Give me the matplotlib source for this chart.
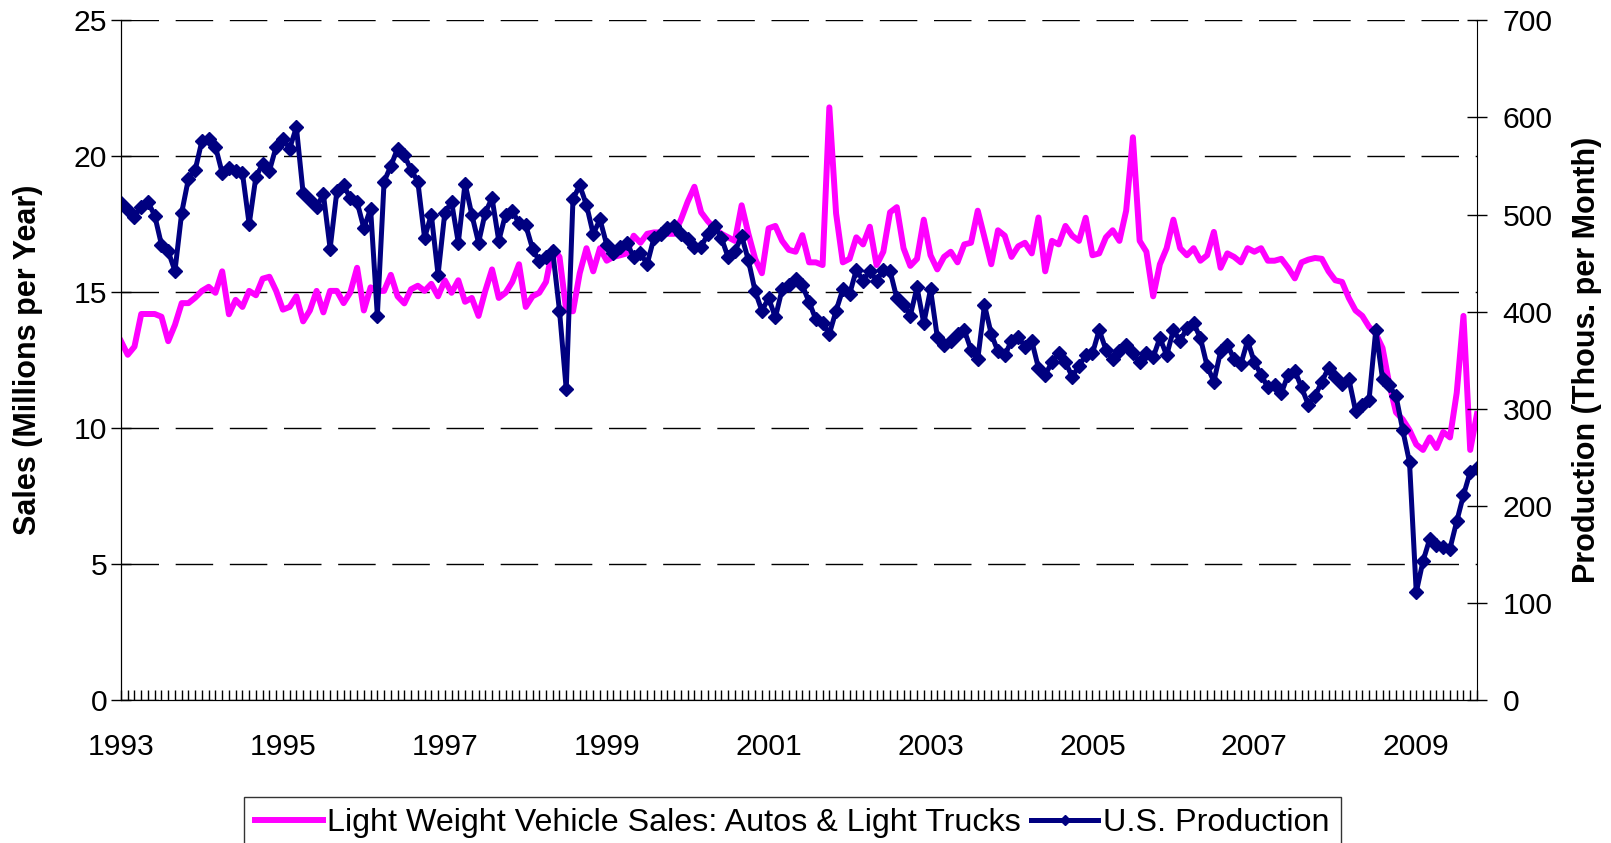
# Light vehicle sales vs U.S. production, monthly 1993 - Oct 2009
import numpy as np
import matplotlib.pyplot as plt

plt.rcParams['font.family'] = ['Liberation Sans', 'DejaVu Sans']

# Sales, millions per year (left axis)
sales = [
    13.2, 12.7, 13.0, 14.2, 14.2, 14.2, 14.1, 13.2, 13.8, 14.6, 14.6, 14.8,      # 1993
    15.05, 15.2, 14.98, 15.77, 14.19, 14.72, 14.46, 15.05, 14.89, 15.5, 15.57, 15.05,  # 1994
    14.36, 14.46, 14.85, 13.93, 14.33, 15.05, 14.26, 15.05, 15.05, 14.6, 15.0, 15.9,   # 1995
    14.33, 15.18, 15.05, 15.05, 15.64, 14.85, 14.59, 15.11, 15.24, 15.05, 15.31, 14.85,  # 1996
    15.44, 14.98, 15.44, 14.65, 14.79, 14.13, 15.05, 15.84, 14.79, 14.98, 15.38, 16.03,  # 1997
    14.46, 14.85, 14.98, 15.38, 16.62, 16.3, 14.33, 14.3, 15.7, 16.62, 15.77, 16.62,     # 1998
    16.16, 16.3, 16.36, 16.43, 17.08, 16.82, 17.15, 17.2, 17.2, 17.15, 17.15, 17.67,     # 1999
    18.33, 18.88, 17.94, 17.61, 17.35, 17.15, 17.02, 16.89, 18.2, 17.15, 16.23, 15.7,    # 2000
    17.35, 17.44, 16.89, 16.56, 16.49, 17.1, 16.1, 16.1, 16.0, 21.8, 17.9, 16.1,         # 2001
    16.23, 17.02, 16.76, 17.41, 16.0, 16.49, 17.94, 18.13, 16.62, 15.97, 16.23, 17.67,   # 2002
    16.36, 15.84, 16.3, 16.49, 16.1, 16.76, 16.82, 18.0, 17.02, 16.03, 17.28, 17.08,     # 2003
    16.3, 16.69, 16.82, 16.43, 17.75, 15.77, 16.89, 16.76, 17.44, 17.08, 16.89, 17.74,   # 2004
    16.36, 16.43, 17.02, 17.28, 16.89, 18.0, 20.7, 16.89, 16.49, 14.85, 16.03, 16.62,    # 2005
    17.67, 16.62, 16.36, 16.62, 16.16, 16.36, 17.22, 15.9, 16.43, 16.3, 16.1, 16.62,     # 2006
    16.49, 16.62, 16.16, 16.16, 16.23, 15.9, 15.51, 16.1, 16.2, 16.26, 16.23, 15.77,     # 2007
    15.44, 15.38, 14.79, 14.33, 14.13, 13.73, 13.47, 12.95, 11.63, 10.58, 10.32, 9.93,   # 2008
    9.4, 9.2, 9.66, 9.27, 9.86, 9.66, 11.3, 14.13, 9.2, 10.52,                          # 2009
]

# Production, thousands per month (right axis)
production = [
    512, 505, 498, 508, 513, 499, 469, 462, 442, 502, 537, 546,
    576, 578, 570, 543, 548, 545, 543, 490, 539, 552, 545, 570,
    578, 568, 590, 522, 515, 508, 521, 465, 524, 530, 517, 513,
    486, 506, 396, 534, 550, 568, 561, 546, 534, 476, 500, 438,
    502, 513, 471, 532, 500, 471, 502, 517, 473, 500, 504, 491,
    489, 465, 452, 456, 462, 401, 320, 516, 530, 510, 480, 495,
    469, 460, 467, 471, 456, 460, 449, 476, 480, 486, 488, 480,
    475, 467, 467, 480, 488, 476, 456, 462, 478, 453, 421, 401,
    414, 394, 423, 427, 434, 427, 410, 392, 388, 377, 401, 423,
    418, 443, 432, 442, 432, 443, 442, 414, 407, 396, 425, 388,
    423, 374, 366, 370, 377, 381, 361, 351, 407, 377, 359, 355,
    370, 374, 364, 370, 342, 335, 348, 357, 348, 333, 344, 355,
    357, 381, 361, 351, 359, 366, 357, 348, 357, 353, 373, 355,
    381, 370, 383, 388, 373, 344, 328, 359, 366, 351, 346, 370,
    348, 335, 322, 324, 316, 335, 339, 322, 304, 313, 328, 342,
    333, 326, 331, 298, 304, 309, 381, 331, 324, 313, 278, 245,
    111, 143, 166, 160, 158, 156, 184, 211, 235, 239,
]

year_labels = ['1993', '1995', '1997', '1999', '2001', '2003', '2005', '2007', '2009']

months = np.arange(len(sales))

fig = plt.figure(figsize=(16.11, 8.43), dpi=100)
ax = fig.add_axes([0.0751, 0.1696, 0.8417, 0.8062])
ax2 = ax.twinx()

# Plotting the two series
line1, = ax.plot(months, sales, color='#FF00FF', linewidth=4.3,
                 label='Light Weight Vehicle Sales: Autos & Light Trucks')
line2, = ax2.plot(months, production, color='#000080', linewidth=3.6,
                  marker='D', markersize=7, markeredgewidth=1,
                  label='U.S. Production')

# Axes limits and ticks
ax.set_xlim(0, len(sales) - 1)
ax.set_ylim(0, 25)
ax2.set_ylim(0, 700)
ax.set_yticks(range(0, 26, 5))
ax2.set_yticks(range(0, 701, 100))
ax.set_xticks(range(0, len(sales), 24))
ax.set_xticklabels(year_labels)
ax.set_xticks(months, minor=True)

ax.tick_params(axis='x', which='both', direction='in', length=7.5, width=1,
               pad=24, labelsize=21.7)
ax.tick_params(axis='y', direction='inout', length=15, width=1, pad=2.5,
               labelsize=21.7)
ax2.tick_params(axis='y', direction='inout', length=15, width=1, pad=11,
                labelsize=21.7)

# Dashed gridlines
ax.grid(axis='y', color='black', linewidth=1, linestyle=(0, (27, 12)))

for a in (ax, ax2):
    a.spines['top'].set_visible(False)
ax.spines['right'].set_visible(False)

# Axis titles
ax.set_ylabel('Sales (Millions per Year)', fontsize=22, fontweight='bold', va='center')
ax.yaxis.set_label_coords(-0.0686, 0.5)
ax2.set_ylabel('Production (Thous. per Month)', fontsize=22, fontweight='bold', va='center')
ax2.yaxis.set_label_coords(1.0815, 0.5)

# Legend under the chart
leg = fig.legend(handles=[line1, line2], loc='upper left',
                 bbox_to_anchor=(243.6 / 1611, 1 - 797 / 843), ncol=2,
                 fontsize=23.2, frameon=True, fancybox=False, edgecolor='black',
                 handlelength=2.1, handletextpad=0.15, columnspacing=0.3,
                 borderpad=0.35, borderaxespad=0)
leg.get_frame().set_linewidth(1)
for h in leg.legend_handles:
    h.set_markersize(5)

fig.savefig('out.png', dpi=100)
